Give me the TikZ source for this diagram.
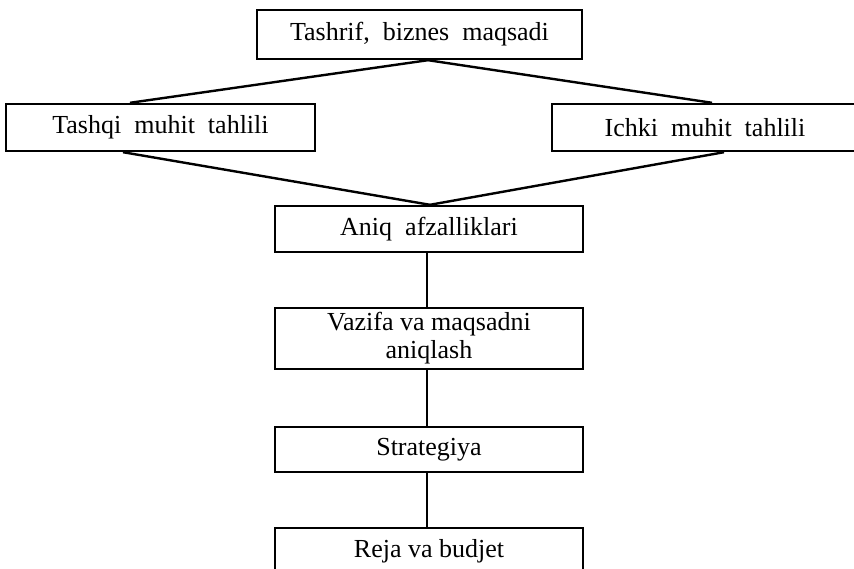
\documentclass[tikz,border=0pt]{standalone}
\usepackage{fontspec}
\setmainfont{Liberation Serif}
\usetikzlibrary{calc}
\newcommand\mywidesp{\spaceskip=0.5em\relax}
\begin{document}
\begin{tikzpicture}[x=1pt,y=-1pt,
  box/.style={draw,line width=2.4pt,inner sep=0pt,align=center,
    font=\fontsize{26}{28}\selectfont},
  wide/.style={font=\fontsize{26}{28}\selectfont\mywidesp},
  link/.style={line width=2.4pt}]
\useasboundingbox (0,0) rectangle (854,569);
\clip (0,0) rectangle (854,569);
\node[box,wide,minimum width=325pt,minimum height=49pt] (top) at (419.5,34.5) {Tashrif, biznes maqsadi};
\node[box,wide,minimum width=309pt,minimum height=47pt] (tashqi) at (160.5,127.5) {Tashqi muhit tahlili};
\node[box,wide,minimum width=306pt,minimum height=47pt] (ichki) at (705,127.5) {Ichki muhit tahlili};
\node[box,wide,minimum width=308pt,minimum height=46pt] (aniq) at (429,229) {Aniq afzalliklari};
\node[box,minimum width=308pt,minimum height=61pt] (vazifa) at (429,338.5) {Vazifa va maqsadni\\aniqlash};
\node[box,minimum width=308pt,minimum height=45pt] (strat) at (429,449.5) {Strategiya};
\node[box,minimum width=308pt,minimum height=46pt] (reja) at (429,551) {Reja va budjet};
\coordinate (topout) at ($(top.south)+(8.5,0)$);
\coordinate (aniqin) at ($(aniq.north)+(1,0)$);
\draw[link] (topout) -- ($(tashqi.north)+(-30.5,0)$);
\draw[link] (topout) -- ($(ichki.north)+(7,0)$);
\draw[link] ($(tashqi.south)+(-37.5,0)$) -- (aniqin);
\draw[link] ($(ichki.south)+(19,0)$) -- (aniqin);
\draw[link] ($(aniq.south)+(-2,0)$) -- ($(vazifa.north)+(-2,0)$);
\draw[link] ($(vazifa.south)+(-2,0)$) -- ($(strat.north)+(-2,0)$);
\draw[link] ($(strat.south)+(-2,0)$) -- ($(reja.north)+(-2,0)$);
\end{tikzpicture}
\end{document}
